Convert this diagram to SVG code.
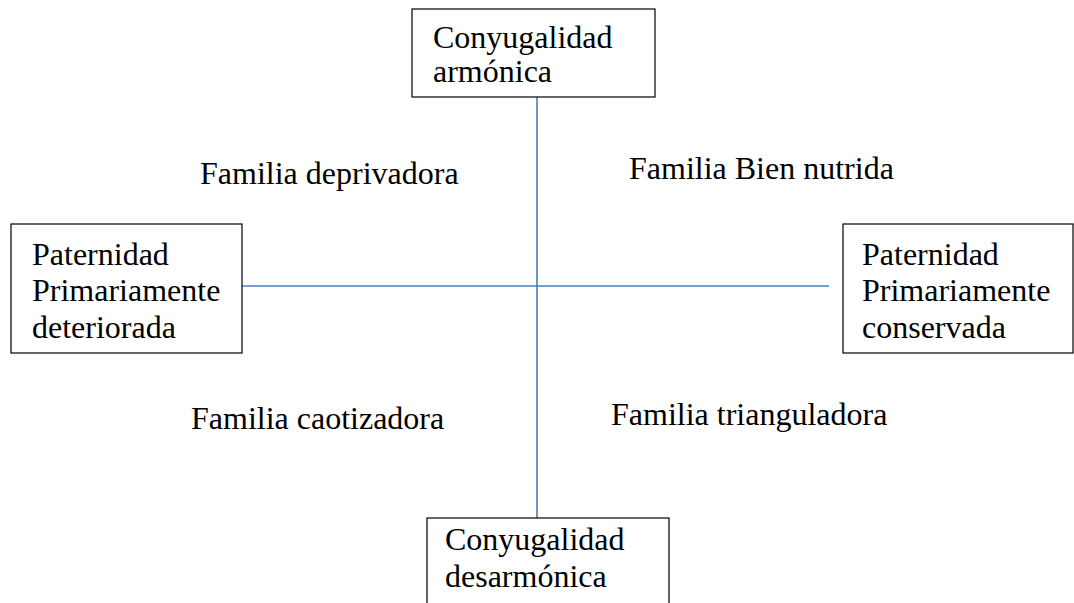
<svg xmlns="http://www.w3.org/2000/svg" width="1074" height="603" viewBox="0 0 1074 603">
<style>
.box{fill:#fff;stroke:#000;stroke-width:1.2}
.t{font-family:"Liberation Serif","Times New Roman",serif;font-size:32px;fill:#000}
.c{stroke:#4a7ebb;stroke-width:1.6;fill:none}
</style>
<rect width="1074" height="603" fill="#fff"/>
<g id="connectors">
<line class="c" x1="537" y1="97" x2="537" y2="518"/>
<line class="c" x1="242" y1="286" x2="829" y2="286"/>
</g>
<g id="top">
<rect class="box" x="412" y="9" width="243" height="88"/>
<text class="t" x="433" y="48">Conyugalidad</text>
<text class="t" x="433" y="82">armónica</text>
</g>
<g id="left">
<rect class="box" x="11" y="224" width="231" height="129"/>
<text class="t" x="32" y="265">Paternidad</text>
<text class="t" x="32" y="301">Primariamente</text>
<text class="t" x="32" y="338">deteriorada</text>
</g>
<g id="right">
<rect class="box" x="843" y="224" width="230" height="129"/>
<text class="t" x="862" y="265">Paternidad</text>
<text class="t" x="862" y="301">Primariamente</text>
<text class="t" x="862" y="338">conservada</text>
</g>
<g id="bottom">
<rect class="box" x="427" y="518" width="242" height="100"/>
<text class="t" x="445" y="550">Conyugalidad</text>
<text class="t" x="445" y="587">desarmónica</text>
</g>
<g id="labels">
<text class="t" x="200" y="184">Familia deprivadora</text>
<text class="t" x="629" y="179">Familia Bien nutrida</text>
<text class="t" x="191" y="429">Familia caotizadora</text>
<text class="t" x="611" y="425">Familia trianguladora</text>
</g>
</svg>
